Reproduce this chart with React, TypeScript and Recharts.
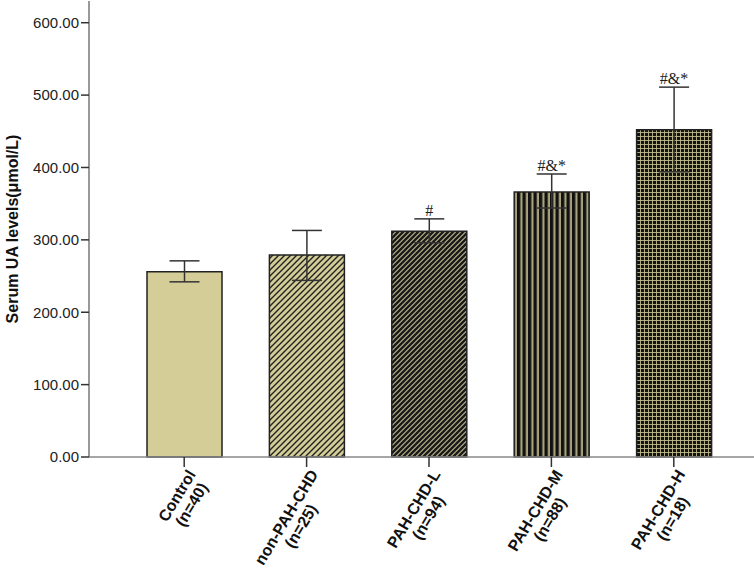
import { Bar, BarChart, Cell, ErrorBar, LabelList, XAxis, YAxis } from "recharts";

// groups and sample sizes
const categories = ["Control", "non-PAH-CHD", "PAH-CHD-L", "PAH-CHD-M", "PAH-CHD-H"];
const sampleSizes = ["(n=40)", "(n=25)", "(n=94)", "(n=88)", "(n=18)"];

// serum UA, umol/L (mean with error bar ends)
const means = [256, 279, 312, 366, 452];
const lowerEnds = [242, 244, 296, 344, 394];
const upperEnds = [271, 313, 329, 391, 511];
const marks = ["", "", "#", "#&*", "#&*"];

const yTicks = [0, 100, 200, 300, 400, 500, 600];
const fills = ["#d5cd97", "url(#diagLight)", "url(#diagDense)", "url(#vertStripe)", "url(#grid)"];

const data = categories.map((name, i) => ({
    name,
    value: means[i],
    err: [means[i] - lowerEnds[i], upperEnds[i] - means[i]],
}));

const font = "'Liberation Sans', Arial, sans-serif";
const khaki = "#d5cd97";
const tickFontSize = 16;

// width of a tick label line, so the second line can be centred under the first
let ctx: CanvasRenderingContext2D | null = null;
const textWidth = (s: string) => {
    if (!ctx) ctx = document.createElement("canvas").getContext("2d");
    if (!ctx) return s.length * 9;
    ctx.font = `bold ${tickFontSize}px 'Liberation Sans', Arial, sans-serif`;
    return ctx.measureText(s).width;
};

const GroupTick = (props: any) => {
    const { x, y, payload } = props;
    const i = categories.indexOf(payload.value);
    const w1 = textWidth(payload.value);
    const style = { fontSize: tickFontSize, fontWeight: "bold" as const, fill: "#111", fontFamily: font };
    return (
        <g transform={`translate(${x},${y}) rotate(-59)`}>
            <text x={0} y={14} textAnchor="end" {...style}>{payload.value}</text>
            <text x={-w1 / 2} y={31} textAnchor="middle" {...style}>{sampleSizes[i]}</text>
        </g>
    );
};

const MarkLabel = (props: any) => {
    const { x, y, width, height, index } = props;
    const mark = marks[index];
    if (!mark) return null;
    const pxPerUnit = height / means[index];
    const top = y - (upperEnds[index] - means[index]) * pxPerUnit;
    return (
        <text x={x + width / 2} y={top - 3} textAnchor="middle" fontSize={16} fill="#222" fontFamily="'Liberation Serif', 'Times New Roman', serif">
            {mark}
        </text>
    );
};

const AxisTitle = (props: any) => {
    const vb = props.viewBox;
    const cx = vb.x + 12;
    const cy = vb.y + vb.height / 2;
    return (
        <text x={cx} y={cy} transform={`rotate(-90, ${cx}, ${cy})`} textAnchor="middle" dominantBaseline="central"
            fontSize={16} fontWeight="bold" fill="#111" fontFamily={font}>
            Serum UA levels(μmol/L)
        </text>
    );
};

function App() {
    return (
        <div style={{ position: "absolute", left: 0, top: 0, background: "#fff" }}>
            <BarChart width={754} height={569} data={data} margin={{ top: 1, right: 0, bottom: 0, left: 0 }}>
                <defs>
                    <pattern id="diagLight" width="6" height="6" patternUnits="userSpaceOnUse">
                        <rect width="6" height="6" fill={khaki} />
                        <path d="M-1,1 l2,-2 M0,6 l6,-6 M5,7 l2,-2" stroke="#222" strokeWidth="1.4" />
                    </pattern>
                    <pattern id="diagDense" width="5" height="5" patternUnits="userSpaceOnUse">
                        <rect width="5" height="5" fill="#bdb68c" />
                        <path d="M-1,1 l2,-2 M0,5 l5,-5 M4,6 l2,-2" stroke="#1a1a1a" strokeWidth="2.4" />
                    </pattern>
                    <pattern id="vertStripe" width="5.5" height="5" patternUnits="userSpaceOnUse">
                        <rect width="5.5" height="5" fill="#a9a27c" />
                        <rect width="3.3" height="5" fill="#111" />
                    </pattern>
                    <pattern id="grid" width="4" height="4" patternUnits="userSpaceOnUse">
                        <rect width="4" height="4" fill="#121212" />
                        <rect width="4" height="0.9" fill="#c2bb8d" />
                        <rect width="0.9" height="4" fill="#c2bb8d" />
                    </pattern>
                </defs>
                <XAxis dataKey="name" interval={0} tick={<GroupTick />} tickSize={10} tickMargin={0}
                    tickLine={{ stroke: "#333", strokeWidth: 1.5 }} axisLine={{ stroke: "#888", strokeWidth: 1.5 }}
                    height={112} padding={{ left: 34, right: 19 }} />
                <YAxis domain={[0, 630]} ticks={yTicks} interval={0} width={89} tickSize={8} tickMargin={2}
                    tickFormatter={(v: number) => v.toFixed(2)}
                    tick={{ fontSize: 15, fill: "#222", fontFamily: font }}
                    tickLine={{ stroke: "#333", strokeWidth: 1.5 }} axisLine={{ stroke: "#777", strokeWidth: 1.5 }}
                    label={{ content: <AxisTitle /> }} />
                <Bar dataKey="value" barSize={75} stroke="#222" strokeWidth={1.5} isAnimationActive={false}>
                    {data.map((d, i) => (
                        <Cell key={d.name} fill={fills[i]} />
                    ))}
                    <ErrorBar dataKey="err" width={15} stroke="#333" strokeWidth={1.5} direction="y" />
                    <LabelList dataKey="value" content={<MarkLabel />} />
                </Bar>
            </BarChart>
        </div>
    );
}

export default App;
